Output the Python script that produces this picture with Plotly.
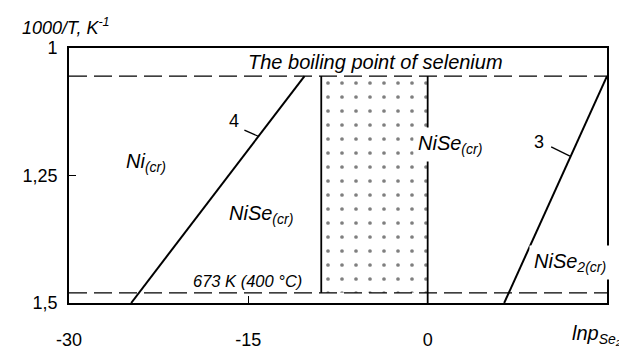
import plotly.graph_objects as go

# ---- data ----
x_tick_vals = [-30, -15, 0]
x_tick_text = ["-30", "-15", "0"]
y_tick_vals = [1.0, 1.25, 1.5]
y_tick_text = ["1", "1,25", "1,5"]

x_range = [-30, 15]
y_range = [1.5, 1.0]

boiling_y = 1.055      # boiling point of selenium (1000/T)
t673_y = 1.48          # 673 K (400 °C)

line4_x = [-24.8, -10.3]
line4_y = [1.5, 1.055]
line3_x = [6.4, 15.0]
line3_y = [1.5, 1.055]

boundary0_x = [0, 0]
boundary0_y = [1.055, 1.5]

dotted_left_x = [-8.9, -8.9]
dotted_left_y = [1.055, 1.48]
dotted_x = [-8.9, 0, 0, -8.9, -8.9]
dotted_y = [1.055, 1.055, 1.48, 1.48, 1.055]

leader4_x = [-15.33, -14.17]
leader4_y = [1.161, 1.173]
leader3_x = [10.33, 11.9]
leader3_y = [1.194, 1.212]

FONT = "Liberation Sans, Arial, sans-serif"

fig = go.Figure()

# dotted region
fig.add_trace(go.Scatter(
    x=dotted_x, y=dotted_y, mode="lines", fill="toself",
    line=dict(width=0, color="rgba(0,0,0,0)"),
    fillcolor="white",
    fillpattern=dict(shape=".", fgcolor="black", bgcolor="white", size=14, solidity=0.055),
    hoverinfo="skip", showlegend=False))

# dashed horizontal lines
for yv in (boiling_y, t673_y):
    fig.add_trace(go.Scatter(
        x=x_range, y=[yv, yv], mode="lines",
        line=dict(color="black", width=1.3, dash="18px,7px"),
        hoverinfo="skip", showlegend=False))

# solid boundary lines
for xs, ys, w in ((line4_x, line4_y, 2), (line3_x, line3_y, 2),
                  (boundary0_x, boundary0_y, 1.8), (dotted_left_x, dotted_left_y, 1.8),
                  (leader4_x, leader4_y, 1.3), (leader3_x, leader3_y, 1.3)):
    fig.add_trace(go.Scatter(
        x=xs, y=ys, mode="lines", line=dict(color="black", width=w),
        hoverinfo="skip", showlegend=False))

def lab(text, x, y, size=17, bg=None, italic=True):
    fig.add_annotation(
        x=x, y=y, xref="x", yref="y", text=text, showarrow=False,
        font=dict(family=FONT, size=size, color="black", style="italic" if italic else "normal"),
        bgcolor=bg if bg else "rgba(0,0,0,0)", borderpad=4)

lab("The boiling point of selenium", -4.33, 1.027, size=20)
lab("673 K (400 °C)", -15.08, 1.457, size=16.5)
lab("Ni<sub>(cr)</sub>", -23.6, 1.225, size=20)
lab("NiSe<sub>(cr)</sub>", -13.9, 1.327, size=20)
lab("NiSe<sub>(cr)</sub>", 1.9, 1.19, size=20, bg="white")
lab("NiSe<sub>2(cr)</sub>", 11.9, 1.42, size=20, bg="white")
lab("4", -16.17, 1.143, size=18, italic=False)
lab("3", 9.33, 1.184, size=18, italic=False)

# axis titles
fig.add_annotation(
    x=-0.091, y=1.086, xref="paper", yref="paper", xanchor="left", yanchor="middle",
    text="1000/T, K<sup>-1</sup>", showarrow=False,
    font=dict(family=FONT, size=18, color="black", style="italic"))
fig.add_annotation(
    x=0.931, y=-0.122, xref="paper", yref="paper", xanchor="left", yanchor="middle",
    text="lnp<sub>Se₂</sub>", showarrow=False,
    font=dict(family=FONT, size=20, color="black", style="italic"))

fig.update_xaxes(
    range=x_range, tickvals=x_tick_vals, ticktext=x_tick_text,
    showgrid=False, zeroline=False, showline=True, mirror=True, automargin=False,
    linecolor="black", linewidth=1.6, ticks="inside", ticklen=7, tickwidth=1.3,
    tickcolor="black", ticklabelstandoff=20,
    tickfont=dict(family=FONT, size=18, color="black"))
fig.update_yaxes(
    range=y_range, tickvals=y_tick_vals, ticktext=y_tick_text,
    showgrid=False, zeroline=False, showline=True, mirror=True, automargin=False,
    linecolor="black", linewidth=1.6, ticks="inside", ticklen=7, tickwidth=1.3,
    tickcolor="black", ticklabelstandoff=6,
    tickfont=dict(family=FONT, size=18, color="black"))

# the page adds an 8 px body margin, so the figure is sized to fit the window
fig.update_layout(
    width=619, height=341,
    margin=dict(l=61, r=20, t=40, b=46),
    paper_bgcolor="white", plot_bgcolor="white",
    showlegend=False)

fig.write_html("out.html")
